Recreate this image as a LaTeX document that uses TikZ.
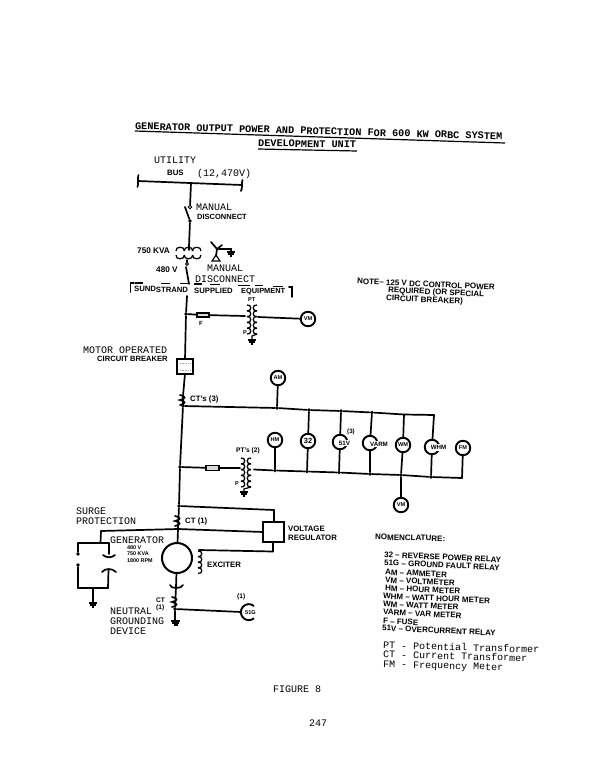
\documentclass[tikz,border=0pt]{standalone}
\usepackage{fontspec}
\setmainfont{Liberation Sans}
\newfontfamily\typed{Liberation Mono}
\usetikzlibrary{calc}
\newcommand{\vcoil}[5]{% x, y start, hump height, count, bulge
  \foreach \ci in {1,...,#4}{
    \draw[coilline] (#1,{#2+(\ci-1)*#3}) .. controls ({#1+#5},{#2+(\ci-1)*#3-1}) and ({#1+#5},{#2+\ci*#3+1}) .. (#1,{#2+\ci*#3});
  }}
\newcommand{\hcoil}[5]{% x start, y, hump width, count, bulge
  \foreach \ci in {1,...,#4}{
    \draw[coilline] ({#1+(\ci-1)*#3},#2) .. controls ({#1+(\ci-1)*#3-1},{#2+#5}) and ({#1+\ci*#3+1},{#2+#5}) .. ({#1+\ci*#3},#2);
  }}
\newcommand{\gnd}[2]{%
  \draw[thinwire] (#1-4,#2) -- (#1+4,#2);
  \draw[thinwire] (#1-2.7,#2+2) -- (#1+2.7,#2+2);
  \draw[thinwire] (#1-1.2,#2+4) -- (#1+1.2,#2+4);}
\tikzset{
  x=1pt,y=-1pt,
  wire/.style={line width=1.7pt,black,line cap=round},
  thinwire/.style={line width=1.2pt,black},
  coilline/.style={line width=1.25pt,black},
  dot/.style={circle,fill=black,inner sep=0pt,minimum size=3.8pt},
  meter/.style={circle,draw=black,line width=1.9pt,fill=white,inner sep=0pt,minimum size=14.5pt,font=\fontsize{5.6}{6}\selectfont\bfseries},
  metertext/.style={inner sep=0.6pt,font=\fontsize{6.2}{7}\selectfont\bfseries},
  sans/.style={anchor=west,inner sep=0pt,text=black,font=\fontsize{7.8}{9}\selectfont\bfseries},
  mono/.style={anchor=west,inner sep=0pt,text=black,font=\fontsize{10}{11}\typed},
  small/.style={anchor=west,inner sep=0pt,text=black,font=\fontsize{5.6}{6.5}\selectfont\bfseries},
  boxnode/.style={rectangle,inner sep=0pt},
  boxline/.style={draw=black,line width=2pt,line join=miter},
  nom/.style={sans,rotate=-2.6,font=\fontsize{8}{9}\selectfont\bfseries},
}
\begin{document}
\begin{tikzpicture}
\useasboundingbox (0,0) rectangle (612,780);
% Title
\node[mono,rotate=-1.6,font=\fontsize{10.2}{11}\typed\bfseries] (title1) at (135,126) {GENERATOR OUTPUT POWER AND PROTECTION FOR 600 KW ORBC SYSTEM};
\node[mono,rotate=-1,font=\fontsize{10.2}{11}\typed\bfseries] (title2) at (258,143) {DEVELOPMENT UNIT};
\draw[thinwire] (135,131) -- (505,143);
\draw[thinwire] (258,149) -- (357,151);
% Utility
\node[mono] (utility) at (154,160) {UTILITY};
\node[sans] (bus) at (167,172.5) {BUS};
\node[mono] (volts) at (197,174) {(12,470V)};
% Bus
\coordinate (busl) at (138,181);
\coordinate (busr) at (242,185);
\coordinate (bust) at (191,183);
\draw[wire] (busl) -- (busr);
\draw[wire] (138.5,175) .. controls (137,179) and (139,183) .. (137.5,187);
\draw[wire] (242.5,180) .. controls (241,184) and (243,187) .. (241,191);
% Manual disconnect 1
\node[circle,draw=black,line width=1pt,inner sep=0pt,minimum size=3.5pt,fill=white] (sw1a) at (190,207) {};
\node[dot] (sw1b) at (190,221) {};
\coordinate (xf1) at (189,246);
\draw[wire] (bust) -- (sw1a);
\draw[wire] (185,207) -- (sw1b);
\draw[wire] (sw1b) -- (xf1);
\node[mono] (mand1) at (196,207) {MANUAL};
\node[sans,font=\fontsize{7.5}{9}\selectfont\bfseries] (disc1) at (197,217) {DISCONNECT};
% Transformer
\node[sans,font=\fontsize{8.2}{9}\selectfont\bfseries] (kva) at (137,251) {750 KVA};
\hcoil{176}{251}{8.3}{3}{-5}
\hcoil{176}{255}{8.3}{3}{5}
\draw[wire] (xf1) -- (189,250);
% Wye
\coordinate (wyec) at (217,249);
\draw[wire] (211,242) -- (wyec);
\draw[wire] (222,245) -- (wyec);
\draw[wire] (wyec) -- (216,256);
\draw[thinwire] (216,255) -- (212,261) -- (220,261) -- cycle;
\draw[thinwire] (wyec) -- (231,249) -- (231,252);
\gnd{231}{252}
% 480 V + switch
\node[sans,font=\fontsize{8.2}{9}\selectfont\bfseries] (v480) at (156,270) {480 V};
\node[circle,draw=black,line width=.8pt,inner sep=0pt,minimum size=3pt,fill=white] (sw2a) at (187,264) {};
\coordinate (sw2b) at (189,284);
\draw[wire] (sw2a) -- (187,260);
\draw[wire] (186,267) -- (sw2b);
\node[mono] (mand2) at (207,268) {MANUAL};
\node[mono] (disc2) at (195,279) {DISCONNECT};
% Sundstrand
\node[sans,rotate=-0.9,font=\fontsize{7.7}{9}\selectfont\bfseries] (sund) at (134,289) {SUNDSTRAND};
\node[sans,font=\fontsize{7.7}{9}\selectfont\bfseries] (supp) at (194,290.5) {SUPPLIED};
\node[sans,font=\fontsize{7.4}{9}\selectfont\bfseries] (equip) at (241,292) {EQUIPMENT};
\draw[wire] (134,283) -- (130.5,283) -- (130.5,292);
\draw[wire] (289,287) -- (292,287) -- (292,297);
\foreach \a/\b/\c in {135/143/283,161/170/283.3,180/188/283.6,194/202/284,210/220/284.5,238/250/285.5,255/263/285.8,273/283/286.5}
  \draw[thinwire] (\a,\c) -- (\b,\c);
% Main vertical upper
\node[dot] (nf) at (186,314) {};
\coordinate (main0) at (187,296);
\node[boxnode,minimum width=15pt,minimum height=14pt] (cb) at (185,366.5) {};
\draw[wire] (main0) -- (nf);
\draw[wire] (nf) -- (cb.north);
\draw[boxline] (cb.north west) rectangle (cb.south east);
% Inside breaker scribble
\draw[black!35,line width=.6pt,densely dotted] (180,363) -- (190,363) (180,370) -- (190,370);
% Fuse F and PT
\node[draw=black,line width=1.1pt,minimum width=12pt,minimum height=4pt,inner sep=0pt,fill=black!15] (fuse1) at (203,315) {};
\node[sans,font=\fontsize{6}{7}\selectfont\bfseries] (flabel) at (199,323) {F};
\coordinate (pt1l) at (245,316);
\coordinate (pt1r) at (258,317);
\node[meter] (vm1) at (308,319) {VM};
\draw[wire] (nf) -- (fuse1);
\draw[wire] (fuse1) -- (pt1l);
\draw[wire] (pt1r) -- (vm1);
\node[small] (ptlab1) at (248,300) {PT};
\vcoil{247}{305}{5.8}{5}{5}
\vcoil{257}{305}{5.8}{5}{-5}
\node[small] (plab1) at (243,333) {P};
\draw[thinwire] (257,334) -- (252,336) -- (252,340);
\gnd{252}{340}
% Motor operated breaker label
\node[mono] (moto) at (83,350) {MOTOR OPERATED};
\node[sans,font=\fontsize{7.6}{9}\selectfont\bfseries] (cbt) at (97,359) {CIRCUIT BREAKER};
% Main vertical lower
\coordinate (ctop) at (183,396);
\node[dot] (j1) at (183,406) {};
\node[dot] (j2) at (180,467) {};
\node[dot] (j3) at (179,506) {};
\coordinate (j4) at (178,529);
\node[circle,draw=black,line width=2pt,minimum size=30pt,inner sep=0pt,fill=white] (gen) at (177,558) {};
\draw[wire] (cb.south) -- (ctop);
\draw[wire] (ctop) -- (j1);
\draw[wire] (j1) -- (j2);
\draw[wire] (j2) -- (j3);
\draw[wire] (j3) -- (j4);
\draw[wire] (j4) -- (gen);
\draw[wire] (180,395) .. controls (186,396) and (186,399) .. (180,400) .. controls (186,401) and (186,404) .. (180,405);
\node[sans] (cts) at (190,399) {CT's (3)};
% Upper meter bus
\node[meter] (am) at (278,378) {AM};
\node[dot] (b0) at (277,408) {};
\node[dot] (b1) at (309,410) {};
\node[dot] (b2) at (341,411) {};
\node[dot] (b3) at (372,412.5) {};
\coordinate (b4) at (404,414.5);
\coordinate (b5) at (434,415);
\draw[wire] (j1) -- (b0);
\draw[wire] (b0) -- (b1);
\draw[wire] (b1) -- (b2);
\draw[wire] (b2) -- (b3);
\draw[wire] (b3) -- (b4);
\draw[wire] (b4) -- (b5);
\draw[wire] (am) -- (b0);
% Meters
\node[meter] (hm) at (275,440) {HM};
\node[meter,font=\fontsize{7.4}{8}\selectfont\bfseries] (m32) at (308,441) {32};
\node[meter] (m51v) at (340,442) {};
\node[meter] (varm) at (370,443) {};
\node[meter] (wm) at (403,445) {WM};
\node[meter] (whm) at (432,447) {};
\node[meter] (fm) at (463,448) {FM};
\node[meter] (vm2) at (401,505) {VM};
\node[sans,font=\fontsize{6.2}{7}\selectfont\bfseries] (three) at (347,432) {(3)};
\draw[wire] (b1) -- (m32);
\draw[wire] (b2) -- (m51v);
\draw[wire] (b3) -- (varm);
\draw[wire] (b4) -- (wm);
\draw[wire] (b5) -- (whm);
% Lower meter bus
\node[draw=black,line width=1.1pt,minimum width=13pt,minimum height=4.5pt,inner sep=0pt,fill=black!15] (fuse2) at (212.5,468) {};
\coordinate (pt2l) at (240,468);
\coordinate (pt2r) at (254,469.5);
\node[dot] (c0) at (275,470.5) {};
\node[dot] (c1) at (307,471.5) {};
\node[dot] (c2) at (339,472.5) {};
\node[dot] (c3) at (370,474) {};
\node[dot] (c4) at (401,475) {};
\node[dot] (c5) at (431,477) {};
\coordinate (c6) at (462,478);
\draw[wire] (j2) -- (fuse2);
\draw[wire] (fuse2) -- (pt2l);
\draw[wire] (pt2r) -- (c0);
\draw[wire] (c0) -- (c1);
\draw[wire] (c1) -- (c2);
\draw[wire] (c2) -- (c3);
\draw[wire] (c3) -- (c4);
\draw[wire] (c4) -- (c5);
\draw[wire] (c5) -- (c6);
\draw[wire] (hm) -- (c0);
\draw[wire] (m32) -- (c1);
\draw[wire] (m51v) -- (c2);
\draw[wire] (varm) -- (c3);
\draw[wire] (wm) -- (c4);
\draw[wire] (whm) -- (c5);
\draw[wire] (fm) -- (c6);
\draw[wire] (c4) -- (vm2);
\fill[white] (338.5,439.5) rectangle (352,446);
\fill[white] (368,440.5) rectangle (390,447);
\fill[white] (430,444) rectangle (447.5,450.5);
\node[metertext] (m51vt) at (344.5,443) {51V};
\node[metertext] (varmt) at (379,444) {VARM};
\node[metertext] (whmt) at (438.5,447.5) {WHM};
\node[sans,font=\fontsize{6.6}{8}\selectfont\bfseries] (pts) at (236,451) {PT's (2)};
\vcoil{241}{458}{5.8}{5}{5}
\vcoil{251}{458}{5.8}{5}{-5}
\node[small] (plab2) at (235,484) {P};
\draw[thinwire] (251,487) -- (244,489) -- (244,492);
\gnd{244}{492}
% Voltage regulator
\node[boxnode,minimum width=20pt,minimum height=19pt] (vr) at (273.5,532) {};
\coordinate (r1) at (274,510);
\draw[wire] (j3) -- (r1);
\draw[wire] (r1) -- (vr.north -| r1);
\draw[wire] (j4) -- (vr.west);
\draw[boxline] (vr.north west) rectangle (vr.south east);
\node[sans] (volt) at (288,529) {VOLTAGE};
\node[sans] (reg) at (288,538) {REGULATOR};
% CT(1)
\draw[wire] (175,516) .. controls (181,517) and (181,520) .. (175,521) .. controls (181,522) and (181,525) .. (175,526);
\node[sans] (ct1) at (185,521) {CT (1)};
% Surge
\node[mono] (surge) at (76,511) {SURGE};
\node[mono] (prot) at (76,521) {PROTECTION};
% Surge branch
\coordinate (s0) at (101,531);
\coordinate (s1) at (100.5,543);
\coordinate (s2) at (109,543);
\coordinate (s3) at (78,543);
\node[dot] (s4) at (78,554) {};
\node[dot] (s5) at (78,565) {};
\coordinate (s6) at (78,588);
\coordinate (s7) at (108,588);
\coordinate (s8) at (93,588);
\coordinate (s9) at (93,603);
\coordinate (cp1) at (109,554);
\coordinate (cp2) at (108.5,570);
\draw[wire] (j4) -- (s0);
\draw[wire] (s0) -- (s1);
\draw[wire] (s3) -- (s1);
\draw[wire] (s1) -- (s2);
\draw[wire] (s3) -- (s4);
\draw[wire] (s2) -- (cp1);
\draw[wire] (s5) -- (s6);
\draw[wire] (s6) -- (s7);
\draw[wire] (s7) -- (cp2);
\draw[thinwire] (s8) -- (s9);
\gnd{93}{603}
\draw[wire] (103,555) .. controls (106,558) and (112,558) .. (115,555);
\draw[wire] (102,572) .. controls (105,568) and (112,568) .. (116,572);
% Generator labels
\node[mono] (gent) at (110,540) {GENERATOR};
\node[small,font=\fontsize{5.4}{6}\selectfont\bfseries] (g1) at (127,547.5) {480 V};
\node[small,font=\fontsize{5.4}{6}\selectfont\bfseries] (g2) at (127,554) {750 KVA};
\node[small,font=\fontsize{5.4}{6}\selectfont\bfseries] (g3) at (127,560.5) {1800 RPM};
% Exciter
\coordinate (e0) at (273,551.5);
\coordinate (e1) at (199,550);
\draw[wire] (vr.south -| e0) -- (e0);
\draw[wire] (e0) -- (e1);
\vcoil{198}{551}{5.6}{4}{5}
\node[sans] (exc) at (207,565) {EXCITER};
% Neutral
\coordinate (n0) at (176,587);
\coordinate (n1) at (175.5,598);
\node[dot] (n2) at (175,609) {};
\coordinate (n3) at (175,621);
\coordinate (sig) at (241,612);
\draw[wire] (gen) -- (n0);
\draw[wire] (n0) -- (n1);
\draw[wire] (n1) -- (n2);
\draw[wire] (n2) -- (n3);
\draw[wire] (n2) -- (sig);
\draw[line width=1.9pt,black] (254,606) arc (-50:-310:8);
\node[sans,font=\fontsize{5.6}{6}\selectfont\bfseries] (sigt) at (245,612.5) {51G};
\draw[wire] (170,585) .. controls (170,589) and (182,589) .. (183,585);
\draw[wire] (172,597) .. controls (178,598) and (178,601) .. (172,602) .. controls (178,603) and (178,606) .. (172,607);
\draw[thinwire] (171,621) -- (180,621) (172,623) -- (179,623) (173.5,625) -- (177.5,625);
\node[sans,font=\fontsize{6.6}{8}\selectfont\bfseries] (ctn) at (156,600) {CT};
\node[sans,font=\fontsize{6.6}{8}\selectfont\bfseries] (ctnn) at (156,608) {(1)};
\node[sans,font=\fontsize{6.6}{8}\selectfont\bfseries] (sig1) at (237,597) {(1)};
\node[mono] (neu) at (110,611) {NEUTRAL};
\node[mono] (gro) at (110,621) {GROUNDING};
\node[mono] (dev) at (110,631) {DEVICE};
% Note
\node[nom] (note1) at (357,281) {NOTE-- 125 V DC CONTROL POWER};
\node[nom] (note2) at (388,290.5) {REQUIRED (OR SPECIAL};
\node[nom] (note3) at (386,298.5) {CIRCUIT BREAKER)};
% Nomenclature
\node[nom,rotate=1.3] (nomt) at (375,537) {NOMENCLATURE:};
\node[nom] (n32) at (384,554.5) {32 -- REVERSE POWER RELAY};
\node[nom] (n51g) at (384,562.5) {51G -- GROUND FAULT RELAY};
\node[nom] (nam) at (385,572) {AM -- AMMETER};
\node[nom] (nvm) at (385,580) {VM -- VOLTMETER};
\node[nom] (nhm) at (385,588) {HM -- HOUR METER};
\node[nom] (nwhm) at (383,596) {WHM -- WATT HOUR METER};
\node[nom] (nwm) at (383,604) {WM -- WATT METER};
\node[nom] (nvarm) at (383,612) {VARM -- VAR METER};
\node[nom] (nf2) at (383,621) {F -- FUSE};
\node[nom] (n51v) at (382,628) {51V -- OVERCURRENT RELAY};
\node[mono,rotate=-1.6] (npt) at (383,645) {PT - Potential Transformer};
\node[mono,rotate=-1.6] (nct) at (383,654) {CT - Current Transformer};
\node[mono,rotate=-1.6] (nfm) at (383,665) {FM - Frequency Meter};
% Footer
\node[mono] (fig) at (273,689) {FIGURE 8};
\node[mono] (page) at (309,723) {247};
\end{tikzpicture}
\end{document}
